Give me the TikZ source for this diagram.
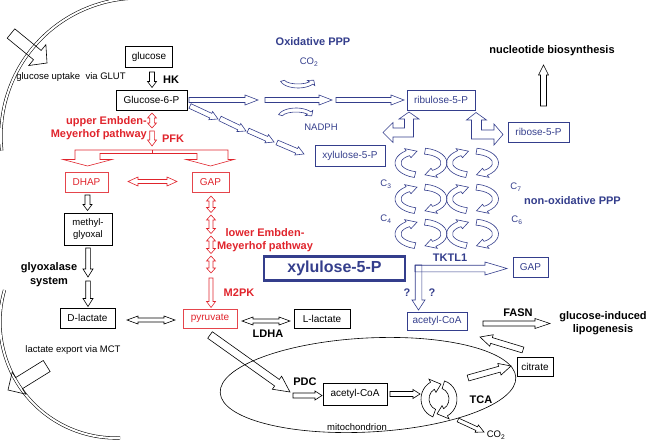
\documentclass[tikz,border=0pt]{standalone}
\usepackage{fontspec}
\setmainfont{Liberation Sans}
\usetikzlibrary{calc}
\definecolor{blueC}{RGB}{52,62,140}
\definecolor{redC}{RGB}{224,36,44}
% curved fat arrow along an ellipse arc
% #1 style, #2 centre, #3 start angle, #4 end angle (head base), #5 tip angle, #6 rx, #7 ry, #8 band half width, #9 head half width
\newcommand\carr[9][]{%
 \pgfmathsetmacro\cwA{#6+#8}\pgfmathsetmacro\cwB{#7+#8}%
 \pgfmathsetmacro\cwC{#6-#8}\pgfmathsetmacro\cwD{#7-#8}%
 \pgfmathsetmacro\cwE{#6+#9}\pgfmathsetmacro\cwF{#7+#9}%
 \pgfmathsetmacro\cwG{#6-#9}\pgfmathsetmacro\cwH{#7-#9}%
 \draw[#1] ($(#2)+(#3:\cwA pt and \cwB pt)$) arc[start angle=#3, end angle=#4, x radius=\cwA pt, y radius=\cwB pt]
   -- ($(#2)+(#4:\cwE pt and \cwF pt)$) -- ($(#2)+(#5:#6pt and #7pt)$) -- ($(#2)+(#4:\cwG pt and \cwH pt)$)
   -- ($(#2)+(#4:\cwC pt and \cwD pt)$) arc[start angle=#4, end angle=#3, x radius=\cwC pt, y radius=\cwD pt] -- cycle;}
\begin{document}
\begin{tikzpicture}[x=1pt,y=1pt,
  box/.style={draw, line width=0.7pt, inner sep=0pt, font=\fontsize{10}{11}\selectfont, align=center},
  rbox/.style={box, draw=redC!85, text=redC},
  bbox/.style={box, draw=blueC, text=blueC},
  lab/.style={font=\bfseries\fontsize{11}{13}\selectfont, align=center, inner sep=0pt},
  txt/.style={font=\fontsize{9.5}{11}\selectfont, inner sep=0pt},
  arr/.style={draw=black, line width=0.6pt, line join=miter},
  rarr/.style={arr, draw=redC},
  barr/.style={arr, draw=blueC},
  memb/.style={draw=black, double=white, double distance=2pt, line width=0.55pt},
  fat/.style n args={3}{to path={
    let \p1=(\tikztostart), \p2=(\tikztotarget), \n1={atan2(\y2-\y1,\x2-\x1)} in
    ($(\p1)+(\n1+90:#1)$) -- ($(\p2)+(\n1+180:#3)+(\n1+90:#1)$) -- ($(\p2)+(\n1+180:#3)+(\n1+90:#2)$)
    -- (\p2) -- ($(\p2)+(\n1+180:#3)+(\n1-90:#2)$) -- ($(\p2)+(\n1+180:#3)+(\n1-90:#1)$)
    -- ($(\p1)+(\n1-90:#1)$) -- cycle}},
  fatb/.style n args={3}{to path={
    let \p1=(\tikztostart), \p2=(\tikztotarget), \n1={atan2(\y2-\y1,\x2-\x1)} in
    ($(\p1)+(\n1:#3)+(\n1+90:#1)$) -- ($(\p2)+(\n1+180:#3)+(\n1+90:#1)$) -- ($(\p2)+(\n1+180:#3)+(\n1+90:#2)$)
    -- (\p2) -- ($(\p2)+(\n1+180:#3)+(\n1-90:#2)$) -- ($(\p2)+(\n1+180:#3)+(\n1-90:#1)$)
    -- ($(\p1)+(\n1:#3)+(\n1-90:#1)$) -- ($(\p1)+(\n1:#3)+(\n1-90:#2)$) -- (\p1)
    -- ($(\p1)+(\n1:#3)+(\n1+90:#2)$) -- cycle}},
]
\useasboundingbox (0,0) rectangle (647,-441);
\clip (0,0) rectangle (647,-441);

% membranes and mitochondrion
\draw[memb] (139,-136) ++(92:138) arc[start angle=92, end angle=186, radius=138pt];
\draw[memb] (116,-322) ++(164:116) arc[start angle=164, end angle=272, radius=116pt];
\draw[line width=0.6pt, rotate around={3:(368,-385)}] (368,-385) ellipse[x radius=148pt, y radius=47pt];

% boxes
\node[box, minimum width=47pt, minimum height=21pt] (glc) at (149,-57) {glucose};
\node[box, minimum width=71pt, minimum height=20pt] (g6p) at (151.5,-100) {Glucose-6-P};
\node[rbox, minimum width=43pt, minimum height=20pt] (dhap) at (86.5,-182) {DHAP};
\node[rbox, minimum width=37pt, minimum height=20pt] (gap) at (210.5,-182) {GAP};
\node[box, minimum width=48pt, minimum height=32pt, font=\fontsize{9.5}{12}\selectfont] (mg) at (88,-229) {methyl-\\glyoxal};
\node[box, minimum width=55pt, minimum height=20pt] (dlac) at (87.5,-318) {D-lactate};
\node[rbox, minimum width=54pt, minimum height=19pt] (pyr) at (210,-318.5) {pyruvate};
\node[box, minimum width=56pt, minimum height=19pt] (llac) at (322,-318.5) {L-lactate};
\node[box, minimum width=64pt, minimum height=22pt] (acm) at (355,-394) {acetyl-CoA};
\node[box, minimum width=36pt, minimum height=19pt] (cit) at (535,-366.5) {citrate};
\node[bbox, minimum width=60pt, minimum height=18pt] (acc) at (437,-321) {acetyl-CoA};
\node[bbox, minimum width=35pt, minimum height=20pt] (gapb) at (530.5,-267) {GAP};
\node[bbox, line width=2.2pt, minimum width=141pt, minimum height=24pt, font=\bfseries\fontsize{16}{18}\selectfont] (xbold) at (334.5,-268.5) {xylulose-5-P};
\node[bbox, minimum width=70pt, minimum height=21pt] (xyl) at (350,-156) {xylulose-5-P};
\node[bbox, minimum width=68pt, minimum height=20pt] (rul) at (441,-100) {ribulose-5-P};
\node[bbox, minimum width=61pt, minimum height=20pt] (rib) at (538.5,-132) {ribose-5-P};

% labels
\node[txt] (gut) at (71,-77) {glucose uptake~ via GLUT};
\node[txt] (lex) at (73,-350) {lactate export via MCT};
\node[lab] (hk) at (171,-80) {HK};
\node[lab, text=redC, align=right, anchor=east] (uem) at (147,-128.5) {upper Embden-\\Meyerhof pathway};
\node[lab, text=redC] (pfk) at (173,-139) {PFK};
\node[lab, font=\bfseries\fontsize{11}{14}\selectfont] (glyx) at (49,-275) {glyoxalase\\system};
\node[lab, text=redC] (lem) at (265,-240.5) {lower Embden-\\Meyerhof pathway};
\node[lab, text=redC] (m2pk) at (239,-293) {M2PK};
\node[lab] (ldha) at (268,-334) {LDHA};
\node[lab] (pdc) at (305,-382) {PDC};
\node[lab] (tca) at (481,-400) {TCA};
\node[txt] (mito) at (357,-427) {mitochondrion};
\node[txt] (co2b) at (496,-435) {CO\textsubscript{2}};
\node[lab] (fasn) at (518,-313) {FASN};
\node[lab] (gil) at (603,-323) {glucose-induced\\lipogenesis};
\node[lab] (nuc) at (552,-51) {nucleotide biosynthesis};
\node[lab, text=blueC] (oxp) at (313,-42) {Oxidative PPP};
\node[txt, text=blueC] (co2a) at (309,-62) {CO\textsubscript{2}};
\node[txt, text=blueC] (nadph) at (321,-127) {NADPH};
\node[lab, text=blueC] (nox) at (572.5,-201) {non-oxidative PPP};
\node[lab, text=blueC] (tk) at (450,-258) {TKTL1};
\node[lab, text=blueC] (q1) at (407,-293) {?};
\node[lab, text=blueC] (q2) at (432,-293) {?};
\node[txt, text=blueC] (c3) at (386,-184) {C\textsubscript{3}};
\node[txt, text=blueC] (c4) at (386,-219) {C\textsubscript{4}};
\node[txt, text=blueC] (c7) at (516,-187) {C\textsubscript{7}};
\node[txt, text=blueC] (c6) at (517,-220) {C\textsubscript{6}};

% connector end points
\coordinate (hkA) at (152,-72); \coordinate (hkB) at (152,-87.5);
\coordinate (pfA) at (152,-113); \coordinate (pfB) at (152,-128);
\coordinate (pfC) at (152,-131); \coordinate (pfD) at (152,-146);
\coordinate (dgA) at (128,-181.5); \coordinate (dgB) at (177,-181.5);
\coordinate (dmA) at (87.5,-195); \coordinate (dmB) at (87.5,-210.5);
\coordinate (gyA) at (88,-248); \coordinate (gyB) at (88,-277);
\coordinate (gyC) at (88,-281); \coordinate (gyD) at (88,-306.5);
\coordinate (gp1) at (211,-196); \coordinate (gp2) at (211,-212.5);
\coordinate (gp3) at (211,-215); \coordinate (gp4) at (211,-233.5);
\coordinate (gp5) at (211,-236); \coordinate (gp6) at (211,-253.5);
\coordinate (gp7) at (211,-256); \coordinate (gp8) at (211,-273);
\coordinate (gp9) at (211,-278); \coordinate (gp10) at (211,-307.5);
\coordinate (dpA) at (127,-320); \coordinate (dpB) at (175,-320);
\coordinate (plA) at (242,-321); \coordinate (plB) at (290,-321);
\coordinate (pmA) at (210,-335); \coordinate (pmB) at (290,-392);
\coordinate (pdA) at (293,-395.5); \coordinate (pdB) at (322,-395.5);
\coordinate (atA) at (390,-394); \coordinate (atB) at (420,-394);
\coordinate (tcA) at (468,-378); \coordinate (tcB) at (511,-366);
\coordinate (caA) at (523,-350); \coordinate (caB) at (480,-337);
\coordinate (faA) at (483,-323.5); \coordinate (faB) at (550,-323.5);
\coordinate (coA) at (458,-420); \coordinate (coB) at (484,-432);
\coordinate (nuA) at (543.5,-106); \coordinate (nuB) at (543.5,-65);
\coordinate (ox1) at (189,-100); \coordinate (ox2) at (258,-100);
\coordinate (ox3) at (265,-100); \coordinate (ox4) at (332,-100);
\coordinate (ox5) at (336,-100); \coordinate (ox6) at (404,-100);
\coordinate (d1) at (190,-106); \coordinate (d2) at (218,-119);
\coordinate (d3) at (220,-118.5); \coordinate (d4) at (246,-131);
\coordinate (d5) at (248,-130.5); \coordinate (d6) at (274,-142);
\coordinate (d7) at (277,-142.5); \coordinate (d8) at (304,-154);
\coordinate (tkA) at (415,-268.5); \coordinate (tkB) at (507,-268.5);
\coordinate (tkC) at (418.5,-265); \coordinate (tkD) at (418.5,-310);
\coordinate (upA) at (11,-33.5); \coordinate (upB) at (47,-63);
\coordinate (exA) at (46.7,-366); \coordinate (exB) at (8,-390);

% black arrows
\draw[arr] (upA) to[fat={6pt}{13.5pt}{12.5pt}] (upB);
\draw[arr] (exA) to[fat={6.5pt}{13pt}{13pt}] (exB);
\draw[arr] (hkA) to[fat={2.5pt}{4.5pt}{6pt}] (hkB);
\draw[arr] (dmA) to[fat={2.5pt}{4.5pt}{6pt}] (dmB);
\draw[arr] (gyA) to[fat={2.3pt}{5pt}{8pt}] (gyB);
\draw[arr] (gyC) to[fat={2.3pt}{5pt}{8pt}] (gyD);
\draw[arr] (dpA) to[fatb={2pt}{4pt}{11pt}] (dpB);
\draw[arr] (plA) to[fatb={2pt}{4pt}{11pt}] (plB);
\draw[arr] (pmA) to[fat={4pt}{8pt}{16pt}] (pmB);
\draw[arr] (pdA) to[fat={2.5pt}{4.5pt}{7pt}] (pdB);
\draw[arr] (atA) to[fat={2.5pt}{4.5pt}{7pt}] (atB);
\draw[arr] (tcA) to[fat={3pt}{6pt}{12pt}] (tcB);
\draw[arr] (caA) to[fat={3pt}{6pt}{12pt}] (caB);
\draw[arr] (faA) to[fat={2.5pt}{5pt}{15pt}] (faB);
\draw[arr] (coA) to[fat={2pt}{4pt}{8pt}] (coB);
\draw[arr] (nuA) to[fat={3pt}{5pt}{10pt}] (nuB);
% TCA cycle
\carr[arr]{439,-399}{250}{118}{82}{14}{15}{4}{7.5}
\carr[arr]{439,-399}{72}{-62}{-98}{14}{15}{4}{7.5}

% red arrows
\draw[rarr] (pfA) to[fatb={2.3pt}{4.5pt}{5pt}] (pfB);
\draw[rarr] (pfC) to[fat={2.3pt}{4.5pt}{6pt}] (pfD);
\draw[rarr] (75,-150) -- (228,-150) -- (228,-159.5) -- (234,-159.5) -- (210.5,-166) -- (186,-159.5) -- (197,-159.5)
  -- (197,-153.5) -- (100,-153.5) -- (100,-159.5) -- (112,-159.5) -- (87.5,-166) -- (63,-159.5) -- (75,-159.5) -- cycle;
\draw[rarr] (152,-150) -- (152,-153.5);
\draw[rarr] (dgA) to[fatb={2pt}{4.5pt}{10pt}] (dgB);
\draw[rarr] (gp1) to[fatb={2pt}{4.5pt}{5pt}] (gp2);
\draw[rarr] (gp3) to[fatb={2pt}{4.5pt}{5pt}] (gp4);
\draw[rarr] (gp5) to[fatb={2pt}{4.5pt}{5pt}] (gp6);
\draw[rarr] (gp7) to[fatb={2pt}{4.5pt}{5pt}] (gp8);
\draw[rarr] (gp9) to[fat={2pt}{4.5pt}{6pt}] (gp10);

% blue arrows
\draw[barr] (ox1) to[fat={2.5pt}{5pt}{13pt}] (ox2);
\draw[barr] (ox3) to[fat={2.5pt}{5pt}{13pt}] (ox4);
\draw[barr] (ox5) to[fat={2.5pt}{5pt}{13pt}] (ox6);
\draw[barr] (d1) to[fat={2.5pt}{4.5pt}{8pt}] (d2);
\draw[barr] (d3) to[fat={2.5pt}{4.5pt}{8pt}] (d4);
\draw[barr] (d5) to[fat={2.5pt}{4.5pt}{8pt}] (d6);
\draw[barr] (d7) to[fat={2.5pt}{4.5pt}{8pt}] (d8);
\draw[barr] (tkA) to[fat={3.3pt}{6.5pt}{22pt}] (tkB);
\draw[barr] (tkC) to[fat={3.3pt}{6.5pt}{10pt}] (tkD);
% elbow arrows at ribulose-5-P
\draw[barr] (409,-112) -- (419,-119) -- (413.5,-119) -- (413.5,-137) -- (393,-137) -- (393,-142.5) -- (383,-132.5)
  -- (393,-122.5) -- (393,-128) -- (404.5,-128) -- (404.5,-119) -- (399,-119) -- cycle;
\draw[barr] (476,-112.5) -- (486.5,-120) -- (481.5,-120) -- (481.5,-130) -- (494,-130) -- (494,-124) -- (503,-134.5)
  -- (494,-145) -- (494,-139) -- (471.5,-139) -- (471.5,-120) -- (466.5,-120) -- cycle;
% oxidative PPP side arrows
\carr[barr]{298,-79}{195}{325}{350}{16}{7}{2}{4.5}
\carr[barr]{296,-117}{165}{35}{10}{16}{7}{2}{4.5}
% non-oxidative PPP rings
\foreach \yy in {163,199,234}{
  \carr[barr]{421,-\yy}{255}{125}{100}{23}{12}{3}{5.5}
  \carr[barr]{421,-\yy}{80}{-55}{-80}{23}{12}{3}{5.5}
  \carr[barr]{472.5,-\yy}{255}{125}{100}{23}{12}{3}{5.5}
  \carr[barr]{472.5,-\yy}{80}{-55}{-80}{23}{12}{3}{5.5}
}
\end{tikzpicture}
\end{document}
